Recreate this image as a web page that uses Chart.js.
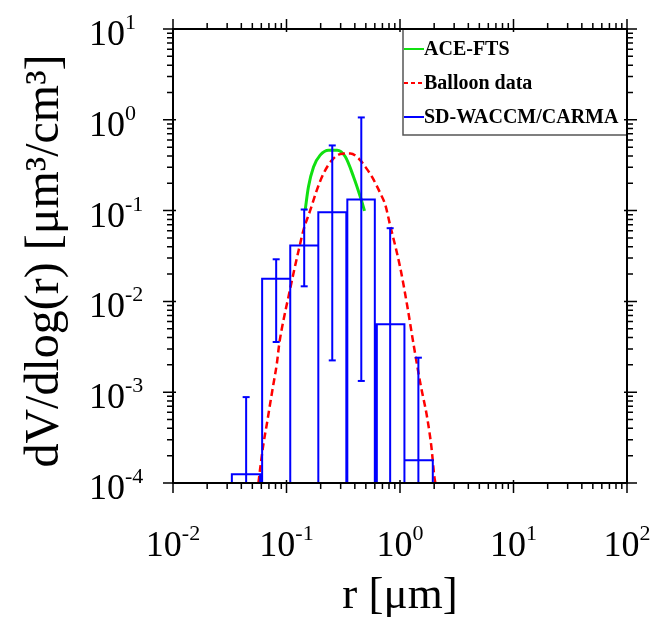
<!DOCTYPE html>
<html>
<head>
<script src="https://cdn.jsdelivr.net/npm/chart.js"></script>
<style>
  body { margin: 0; background: #fff; }
  #wrap { width: 650px; height: 617px; }
</style>
</head>
<body>
<div id="wrap"><canvas id="sizeChart"></canvas></div>
<script>
// axis ranges (log-log)
const xMin = 0.01, xMax = 100, yMin = 1e-4, yMax = 10;
const xTickValues = [0.01, 0.1, 1, 10, 100];
const xTickExp = ['-2', '-1', '0', '1', '2'];
const yTickValues = [10, 1, 0.1, 0.01, 0.001, 0.0001];
const yTickExp = ['1', '0', '-1', '-2', '-3', '-4'];

// SD-WACCM/CARMA histogram: bin edges (um) and dV/dlog(r)
const binLow   = [0.0330, 0.0610, 0.1079, 0.1907, 0.3435, 0.625, 1.094];
const binHigh  = [0.0586, 0.1079, 0.1907, 0.3366, 0.600, 1.094, 1.945];
const binValue = [1.25e-4, 0.0178, 0.0412, 0.0960, 0.1324, 0.0056, 1.78e-4];

// error bars (1e-6 = lower end runs below the axis)
const errR    = [0.0441, 0.0811, 0.1432, 0.2530, 0.456, 0.819, 1.452];
const errHigh = [8.83e-4, 0.0291, 0.1028, 0.522, 1.062, 0.0640, 2.40e-3];
const errLow  = [1e-6, 3.57e-3, 0.01466, 2.24e-3, 1.33e-3, 1e-6, 1e-6];

// ACE-FTS size distribution
const aceR = [0.146, 0.156, 0.173, 0.198, 0.235, 0.279, 0.330, 0.390, 0.447, 0.487];
const aceV = [0.101, 0.182, 0.303, 0.408, 0.463, 0.463, 0.391, 0.235, 0.142, 0.0993];

// balloon data fit
const balloonR = [0.0566, 0.0586, 0.0627, 0.0672, 0.0718, 0.0768, 0.0822, 0.0863, 0.094, 0.104,
                  0.115, 0.128, 0.141, 0.162, 0.185, 0.212, 0.252, 0.298, 0.365, 0.432,
                  0.495, 0.567, 0.671, 0.743, 0.822, 0.910, 1.007, 1.156, 1.321, 1.513,
                  1.733, 1.892, 2.01, 2.05];
const balloonV = [1.0e-4, 1.44e-4, 2.71e-4, 4.5e-4, 7.5e-4, 1.24e-3, 2.06e-3, 3.4e-3, 6.19e-3, 0.0112,
                  0.0202, 0.0366, 0.0608, 0.101, 0.168, 0.256, 0.360, 0.419, 0.426, 0.375,
                  0.303, 0.235, 0.155, 0.115, 0.0673, 0.0405, 0.0232, 9.06e-3, 3.28e-3, 1.24e-3,
                  5.3e-4, 2.48e-4, 1.16e-4, 1.0e-4];

const serif = '"Liberation Serif", "Times New Roman", serif';
const blue = '#0000ff', green = '#11e011', red = '#ff0000';

// outline of every bar, separated by gaps
const barPoints = [];
binLow.forEach((lo, i) => {
    barPoints.push({x: lo, y: yMin}, {x: lo, y: binValue[i]},
                   {x: binHigh[i], y: binValue[i]}, {x: binHigh[i], y: yMin},
                   {x: binHigh[i], y: null});
});

const errPoints = [];
const capPoints = [];
errR.forEach((r, i) => {
    errPoints.push({x: r, y: errLow[i]}, {x: r, y: errHigh[i]}, {x: r, y: null});
    capPoints.push({x: r, y: errHigh[i]});
    if (errLow[i] >= yMin) capPoints.push({x: r, y: errLow[i]});
});

function powerText(ctx, exp, left, base) {
    ctx.font = '36px ' + serif;
    ctx.fillText('10', left, base);
    const w = ctx.measureText('10').width;
    ctx.font = '22px ' + serif;
    ctx.fillText(exp, left + w, base - 16);
}

function powerWidth(ctx, exp) {
    ctx.font = '36px ' + serif;
    const w = ctx.measureText('10').width;
    ctx.font = '22px ' + serif;
    return w + ctx.measureText(exp).width;
}

// frame, ticks, tick labels, titles and legend
const decorations = {
    id: 'decorations',
    afterDraw(chart) {
        const {ctx, chartArea: a, scales: {x, y}} = chart;
        ctx.save();

        // legend box in the upper right corner
        const lx = 403, ly = a.top, lw = a.right - 403, lh = 106;
        ctx.fillStyle = '#fff';
        ctx.fillRect(lx, ly, lw, lh);
        ctx.strokeStyle = '#555';
        ctx.lineWidth = 1.5;
        ctx.strokeRect(lx, ly, lw, lh);
        const entries = [['ACE-FTS', green, []], ['Balloon data', red, [4, 3]], ['SD-WACCM/CARMA', blue, []]];
        ctx.font = 'bold 20px ' + serif;
        ctx.textBaseline = 'middle';
        entries.forEach(([label, color, dash], i) => {
            const cy = 49 + i * 34;
            ctx.strokeStyle = color;
            ctx.lineWidth = 2;
            ctx.setLineDash(dash);
            ctx.beginPath();
            ctx.moveTo(lx + 1, cy);
            ctx.lineTo(lx + 21, cy);
            ctx.stroke();
            ctx.setLineDash([]);
            ctx.fillStyle = '#000';
            ctx.fillText(label, lx + 21, cy + 1);
        });

        // plot frame
        ctx.strokeStyle = '#000';
        ctx.lineWidth = 2;
        ctx.strokeRect(a.left, a.top, a.right - a.left, a.bottom - a.top);

        // log ticks, pointing outwards
        ctx.lineWidth = 1.5;
        ctx.beginPath();
        for (let e = -2; e <= 2; e++) {
            for (let m = 1; m <= 9; m++) {
                const v = m * Math.pow(10, e);
                if (v > xMax * 1.0001) break;
                const px = x.getPixelForValue(v);
                const major = m === 1;
                const len = major ? 10 : 6;
                const inn = major ? 3 : 0;
                ctx.moveTo(px, a.bottom - inn); ctx.lineTo(px, a.bottom + len);
                ctx.moveTo(px, a.top + inn); ctx.lineTo(px, a.top - len);
            }
        }
        for (let e = -4; e <= 1; e++) {
            for (let m = 1; m <= 9; m++) {
                const v = m * Math.pow(10, e);
                if (v > yMax * 1.0001) break;
                const py = y.getPixelForValue(v);
                const major = m === 1;
                const len = major ? 10 : 6;
                const inn = major ? 3 : 0;
                ctx.moveTo(a.left + inn, py); ctx.lineTo(a.left - len, py);
                ctx.moveTo(a.right - inn, py); ctx.lineTo(a.right + len, py);
            }
        }
        ctx.stroke();

        // tick labels
        ctx.fillStyle = '#000';
        ctx.textBaseline = 'alphabetic';
        ctx.textAlign = 'left';
        xTickValues.forEach((v, i) => {
            const px = x.getPixelForValue(v);
            const w = powerWidth(ctx, xTickExp[i]);
            powerText(ctx, xTickExp[i], px - w / 2, a.bottom + 73);
        });
        yTickValues.forEach((v, i) => {
            const py = y.getPixelForValue(v);
            powerText(ctx, yTickExp[i], 89, py + 16);
        });

        // axis titles
        ctx.font = '45px ' + serif;
        ctx.textAlign = 'center';
        ctx.fillText('r [\u03bcm]', (a.left + a.right) / 2, 608);
        ctx.font = '48px ' + serif;
        ctx.translate(58, (a.top + a.bottom) / 2 + 5);
        ctx.rotate(-Math.PI / 2);
        ctx.fillText('dV/dlog(r) [\u03bcm\u00b3/cm\u00b3]', 0, 0);
        ctx.restore();
    }
};

new Chart(document.getElementById('sizeChart'), {
    type: 'line',
    data: {
        datasets: [
            {
                label: 'SD-WACCM/CARMA',
                data: barPoints,
                borderColor: blue,
                borderWidth: 2,
                pointRadius: 0,
                spanGaps: false,
                clip: 0
            },
            {
                label: 'error',
                data: errPoints,
                borderColor: blue,
                borderWidth: 2,
                pointRadius: 0,
                spanGaps: false,
                clip: 0
            },
            {
                label: 'caps',
                data: capPoints,
                showLine: false,
                pointStyle: 'line',
                pointRadius: 3.5,
                pointBorderWidth: 2,
                pointBorderColor: blue,
                borderColor: blue,
                clip: 0
            },
            {
                label: 'Balloon data',
                data: balloonR.map((r, i) => ({x: r, y: balloonV[i]})),
                borderColor: red,
                borderWidth: 2.5,
                borderDash: [7, 4],
                pointRadius: 0,
                cubicInterpolationMode: 'monotone',
                clip: 0
            },
            {
                label: 'ACE-FTS',
                data: aceR.map((r, i) => ({x: r, y: aceV[i]})),
                borderColor: green,
                borderWidth: 3,
                pointRadius: 0,
                cubicInterpolationMode: 'monotone',
                clip: 0
            }
        ]
    },
    options: {
        responsive: true,
        maintainAspectRatio: false,
        animation: false,
        layout: { padding: { top: 29, right: 23, left: 0, bottom: 0 } },
        scales: {
            x: {
                type: 'logarithmic',
                min: xMin,
                max: xMax,
                ticks: { display: false },
                grid: { display: false },
                border: { display: false },
                afterFit(scale) { scale.height = 134; }
            },
            y: {
                type: 'logarithmic',
                min: yMin,
                max: yMax,
                ticks: { display: false },
                grid: { display: false },
                border: { display: false },
                afterFit(scale) { scale.width = 173; }
            }
        },
        plugins: {
            legend: { display: false },
            tooltip: { enabled: false }
        }
    },
    plugins: [decorations]
});
</script>
</body>
</html>
